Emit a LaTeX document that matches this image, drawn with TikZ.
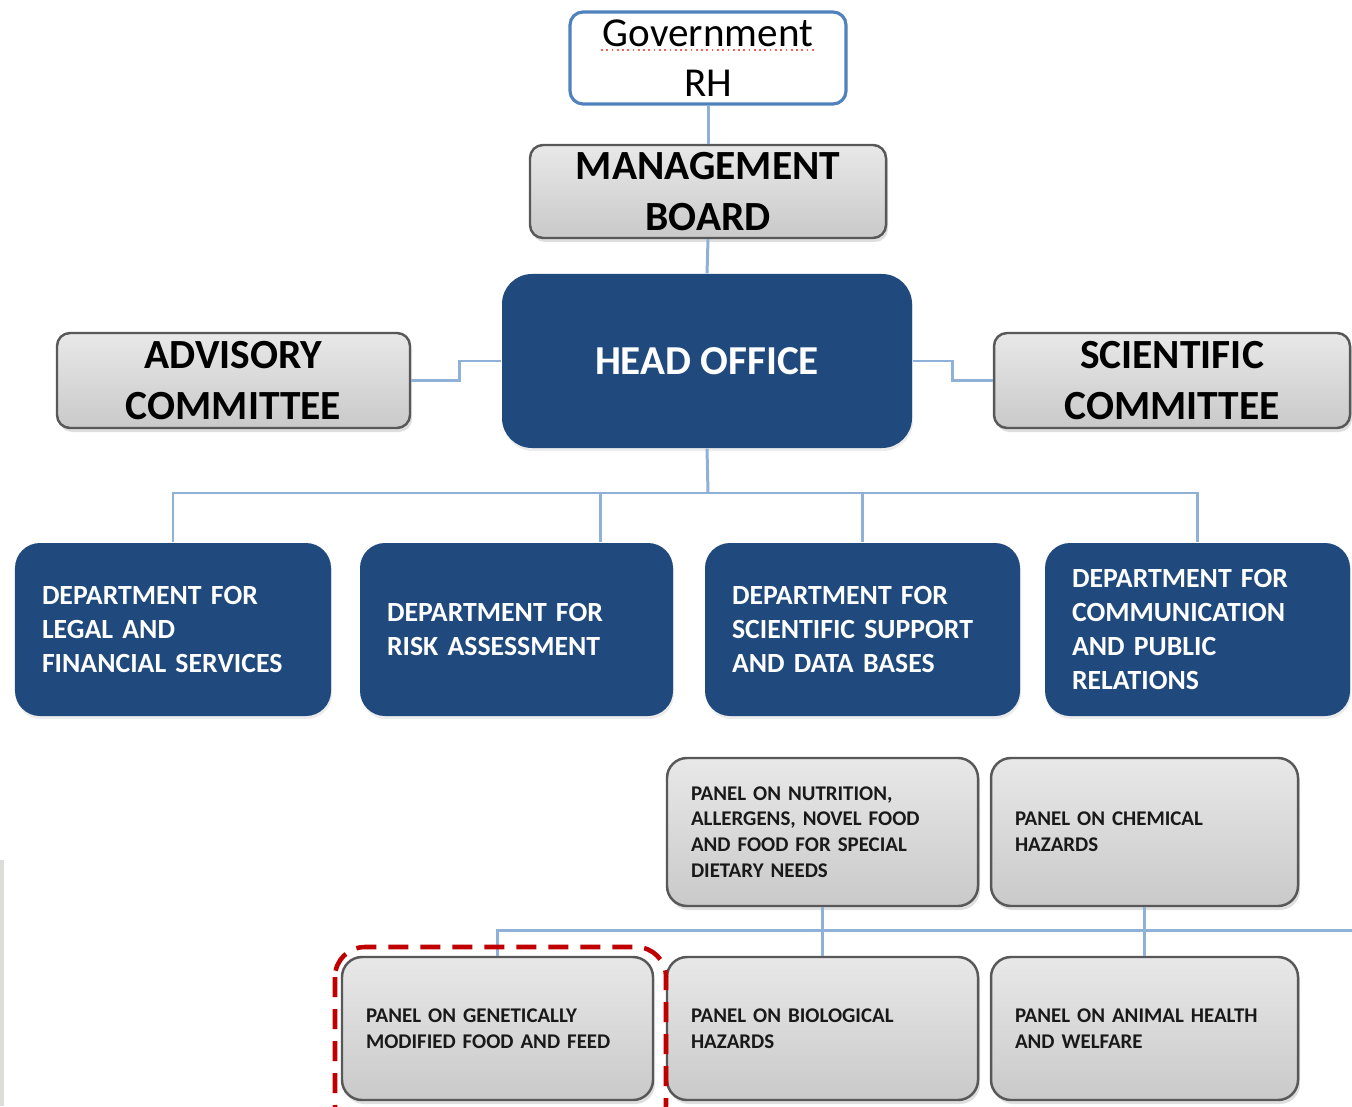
\documentclass[tikz,border=0pt]{standalone}
\usepackage{fontspec}
\setmainfont{Carlito}
\usepackage{tikz}
\usetikzlibrary{positioning,shadows,calc}

\definecolor{orgblue}{RGB}{32,74,125}
\definecolor{linkblue}{RGB}{143,177,216}
\definecolor{govblue}{RGB}{79,129,189}
\definecolor{rimgray}{RGB}{88,88,88}
\definecolor{markred}{RGB}{192,0,0}
\definecolor{edgegray}{RGB}{220,220,216}

\tikzset{
  link/.style={draw=linkblue, line width=0.85pt},
  spell/.style={draw=red!65, densely dotted, line width=0.5pt},
  govbox/.style={draw=govblue, line width=0.9pt, fill=white, rounded corners=0.13cm,
    inner sep=0pt, align=center, font=\fontsize{11.7}{14.2}\selectfont},
  greybox/.style={draw=rimgray, line width=0.7pt, rounded corners=0.13cm,
    top color=black!9, bottom color=black!21,
    drop shadow={shadow xshift=0.02cm, shadow yshift=-0.04cm, opacity=0.25},
    inner sep=0pt, align=center, font=\bfseries\fontsize{11.8}{14.5}\selectfont},
  bluebox/.style={fill=orgblue, text=white, inner sep=0pt,
    drop shadow={shadow xshift=0.01cm, shadow yshift=-0.03cm, opacity=0.15}},
  deptbox/.style={bluebox, rounded corners=0.25cm, inner xsep=0.27cm, minimum height=1.73cm,
    align=left, font=\bfseries\fontsize{7.9}{9.7}\selectfont},
  panelbox/.style={draw=rimgray, line width=0.7pt, rounded corners=0.2cm,
    top color=black!9, bottom color=black!21,
    drop shadow={shadow xshift=0.02cm, shadow yshift=-0.04cm, opacity=0.25},
    inner xsep=0.24cm, align=left, text=black!90, font=\bfseries\fontsize{5.95}{7.3}\selectfont},
  highlight/.style={draw=markred, line width=1.3pt, dash pattern=on 0.2cm off 0.12cm, rounded corners=0.3cm}
}

\begin{document}
\begin{tikzpicture}

  % Page frame
  \useasboundingbox (0,0) rectangle (13.52,-11.06);
  \clip (0,0) rectangle (13.52,-11.06);
  \fill[edgegray] (0,-8.6) rectangle (0.04,-11.06);

  % Top levels
  \node[govbox, minimum width=2.76cm, minimum height=0.92cm] (gov) at (7.08,-0.58) {Government\\RH};
  \draw[spell] ([xshift=-1.07cm, yshift=0.08cm]gov.center) -- ([xshift=1.07cm, yshift=0.08cm]gov.center);
  \node[greybox, minimum width=3.56cm, minimum height=0.93cm] (board) at (7.08,-1.915) {MANAGEMENT\\BOARD};
  \node[bluebox, rounded corners=0.3cm, minimum width=4.1cm, minimum height=1.74cm,
        font=\bfseries\fontsize{11.7}{14}\selectfont] (head) at (7.07,-3.61) {HEAD OFFICE};
  \node[greybox, minimum width=3.53cm, minimum height=0.95cm] (adv) at (2.335,-3.805) {ADVISORY\\COMMITTEE};
  \node[greybox, minimum width=3.56cm, minimum height=0.95cm] (sci) at (11.72,-3.805) {SCIENTIFIC\\COMMITTEE};

  \draw[link] (gov.south) -- (board.north);
  \draw[link] (board.south) -- (head.north);
  \draw[link] (adv.east) -- ++(0.48,0) |- (head.west);
  \draw[link] (head.east) -- ++(0.4,0) |- (sci.west);

  % Departments
  \node[deptbox, text width=2.62cm] (dep1) at (1.73,-6.295) {DEPARTMENT FOR\\LEGAL AND\\FINANCIAL SERVICES};
  \node[deptbox, text width=2.59cm] (dep2) at (5.165,-6.295) {DEPARTMENT FOR\\RISK ASSESSMENT};
  \node[deptbox, text width=2.61cm] (dep3) at (8.625,-6.295) {DEPARTMENT FOR\\SCIENTIFIC SUPPORT\\AND DATA BASES};
  \node[deptbox, text width=2.51cm] (dep4) at (11.975,-6.295) {DEPARTMENT FOR\\COMMUNICATION\\AND PUBLIC\\RELATIONS};

  \coordinate (hub) at (7.08,-4.93);
  \draw[link] (head.south) -- (hub);
  \draw[link] (dep1.north) |- (hub);
  \draw[link] ([xshift=0.835cm]dep2.north) |- (hub);
  \draw[link] (dep3.north) |- (hub);
  \draw[link] (dep4.north) |- (hub);

  % Panels
  \node[panelbox, text width=2.63cm, minimum height=1.48cm] (pan1) at (8.225,-8.32) {PANEL ON NUTRITION,\\ALLERGENS, NOVEL FOOD\\AND FOOD FOR SPECIAL\\DIETARY NEEDS};
  \node[panelbox, text width=2.59cm, minimum height=1.48cm] (pan2) at (11.445,-8.32) {PANEL ON CHEMICAL\\HAZARDS};
  \node[panelbox, text width=2.63cm, minimum height=1.43cm] (pan3) at (4.975,-10.285) {PANEL ON GENETICALLY\\MODIFIED FOOD AND FEED};
  \node[panelbox, text width=2.63cm, minimum height=1.43cm] (pan4) at (8.225,-10.285) {PANEL ON BIOLOGICAL\\HAZARDS};
  \node[panelbox, text width=2.59cm, minimum height=1.43cm] (pan5) at (11.445,-10.285) {PANEL ON ANIMAL HEALTH\\AND WELFARE};

  \coordinate (pbus) at (13.6,-9.3);
  \draw[link] (pan3.north) |- (pbus);
  \draw[link] (pan1.south) -- (pan4.north);
  \draw[link] (pan2.south) -- (pan5.north);

  % Marked panel
  \draw[highlight] (3.35,-9.47) rectangle (6.66,-11.35);

\end{tikzpicture}
\end{document}
